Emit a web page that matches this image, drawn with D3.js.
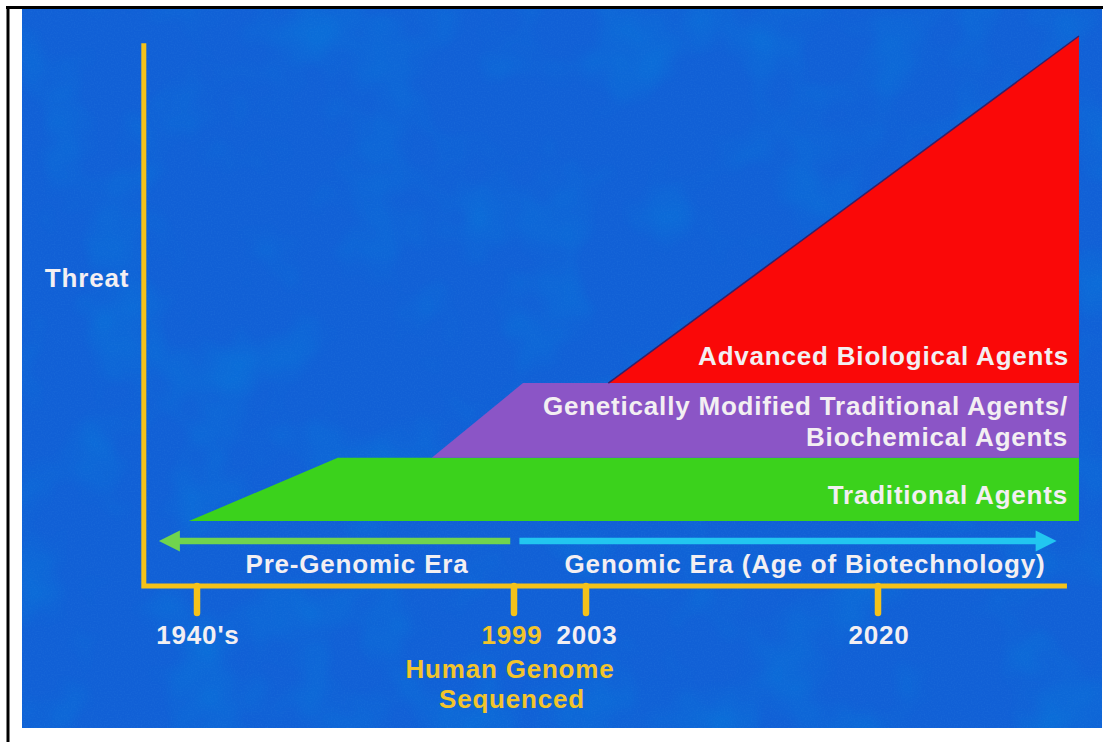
<!DOCTYPE html>
<html><head><meta charset="utf-8">
<script src="https://cdn.jsdelivr.net/npm/d3@7"></script>
<style>
html,body{margin:0;padding:0;background:#fff;}
svg{display:block;}
text{font-family:"Liberation Sans",Arial,Helvetica,sans-serif;font-weight:bold;}
</style></head>
<body>
<svg id="chart" width="1112" height="742"></svg>
<script>
// ---- data ----
const tickYears = [1940, 1999, 2003, 2020];
const tickLabels = ["1940's", "1999", "2003", "2020"];
const layerNames = ["Traditional Agents", "Genetically Modified Traditional Agents/|Biochemical Agents", "Advanced Biological Agents"];
const traditional = [[1938.5, 11.8], [1966.2, 23.3], [2031.7, 23.3], [2031.7, 11.8]];
const modified = [[1983.7, 23.3], [1999.5, 36.9], [2031.7, 36.9], [2031.7, 23.3]];
const advanced = [[2004.3, 36.9], [2031.7, 100], [2031.7, 36.9]];
const eraNames = ["Pre-Genomic Era", "Genomic Era (Age of Biotechnology)"];
const eraFrom = [1998.3, 1999.3];
const eraTo = [1932.9, 2030.4];
const axisExtentYears = [1930.1, 2031.0];
const axisTopThreat = 98.7;
const yLabel = "Threat";
const milestone = ["Human Genome", "Sequenced"];

// ---- drawing ----
const svg = d3.select("#chart");
const x = d3.scaleLinear().domain(tickYears).range([197, 514, 586, 878]);
const y = d3.scaleLinear().domain([0, 100]).range([586, 36]);

const defs = svg.append("defs");
const f = defs.append("filter").attr("id", "tex").attr("x", 0).attr("y", 0).attr("width", "100%").attr("height", "100%");
f.append("feTurbulence").attr("type", "fractalNoise").attr("baseFrequency", "0.012").attr("numOctaves", 3).attr("seed", 7).attr("result", "n");
f.append("feColorMatrix").attr("in", "n").attr("type", "matrix")
  .attr("values", "0 0 0 0 0.0  0 0 0 0 0.25  0 0 0 0 0.72  0 0 0 -1.6 0.85");
const g2 = defs.append("filter").attr("id", "grain").attr("x", 0).attr("y", 0).attr("width", "100%").attr("height", "100%");
g2.append("feTurbulence").attr("type", "fractalNoise").attr("baseFrequency", "0.7").attr("numOctaves", 1).attr("seed", 3).attr("result", "n");
g2.append("feColorMatrix").attr("in", "n").attr("type", "matrix")
  .attr("values", "0 0 0 0 0.05  0 0 0 0 0.3  0 0 0 0 0.8  0 0 0 1.2 -0.5");

// frame
svg.append("rect").attr("x", 22).attr("y", 9).attr("width", 1080).attr("height", 719).attr("fill", "#1160d6");
svg.append("rect").attr("x", 22).attr("y", 9).attr("width", 1080).attr("height", 719).attr("filter", "url(#tex)").attr("opacity", 0.5);
svg.append("rect").attr("x", 22).attr("y", 9).attr("width", 1080).attr("height", 719).attr("filter", "url(#grain)").attr("opacity", 0.25);
svg.append("line").attr("x1", 6).attr("x2", 1103).attr("y1", 7.5).attr("y2", 7.5).attr("stroke", "#000").attr("stroke-width", 3);
svg.append("line").attr("x1", 8).attr("x2", 8).attr("y1", 6).attr("y2", 742).attr("stroke", "#000").attr("stroke-width", 3);

const line = d3.line().x(d => x(d[0])).y(d => y(d[1]));
const poly = pts => line(pts) + "Z";
svg.append("path").attr("d", poly(traditional)).attr("fill", "#3bd21c");
svg.append("path").attr("d", poly(modified)).attr("fill", "#8b55c6");
svg.append("path").attr("d", poly(advanced)).attr("fill", "#fa0808");
svg.append("path").attr("d", line(advanced.slice(0, 2))).attr("stroke", "#35206a").attr("stroke-width", 1.5).attr("fill", "none");

const white = "#f3eff2", gold = "#f2c42c";
const txt = (s, xx, yy, anchor, color) => svg.append("text").attr("x", xx).attr("y", yy)
  .attr("text-anchor", anchor).attr("fill", color || white).attr("font-size", 26)
  .attr("letter-spacing", "0.8px").text(s);

// layer labels
txt(layerNames[2], 1069, 365, "end");
const mod = layerNames[1].split("|");
txt(mod[0], 1068, 415, "end");
txt(mod[1], 1068, 446, "end");
txt(layerNames[0], 1068, 504, "end");

// era arrows
const eraColors = ["#70d44e", "#22c6f0"];
eraNames.forEach((name, i) => {
  const x0 = x(eraFrom[i]), x1 = x(eraTo[i]), dir = Math.sign(x1 - x0), yy = 541;
  const head = 21;
  svg.append("line").attr("x1", x0).attr("x2", x1 - dir * head + dir * 2).attr("y1", yy).attr("y2", yy)
    .attr("stroke", eraColors[i]).attr("stroke-width", 6.5);
  svg.append("path").attr("d", `M${x1},${yy} L${x1 - dir * head},${yy - 10.5} L${x1 - dir * head},${yy + 10.5}Z`)
    .attr("fill", eraColors[i]);
});
txt(eraNames[0], 357, 573, "middle");
txt(eraNames[1], 805, 573, "middle");

// axes
const yellow = "#f4c21a";
const ax = svg.append("g").attr("stroke", yellow).attr("stroke-width", 5).attr("stroke-linecap", "round").attr("fill", "none");
ax.append("path").attr("d", `M${x(axisExtentYears[0])},${y(axisTopThreat)} L${x(axisExtentYears[0])},${y(0)} L${x(axisExtentYears[1])},${y(0)}`)
  .attr("stroke-linejoin", "miter").attr("stroke-linecap", "butt");
tickYears.forEach((t, i) => {
  ax.append("line").attr("x1", x(t)).attr("x2", x(t)).attr("y1", y(0)).attr("y2", y(0) + 27).attr("stroke-width", 6.5);
});
tickLabels.forEach((t, i) => {
  txt(t, x(tickYears[i]) + (i === 1 ? -2 : 1), 644, "middle", i === 1 ? gold : white);
});
txt(milestone[0], 510, 678, "middle", gold);
txt(milestone[1], 512, 708, "middle", gold);
txt(yLabel, 87, 287, "middle");
</script>
</body></html>
